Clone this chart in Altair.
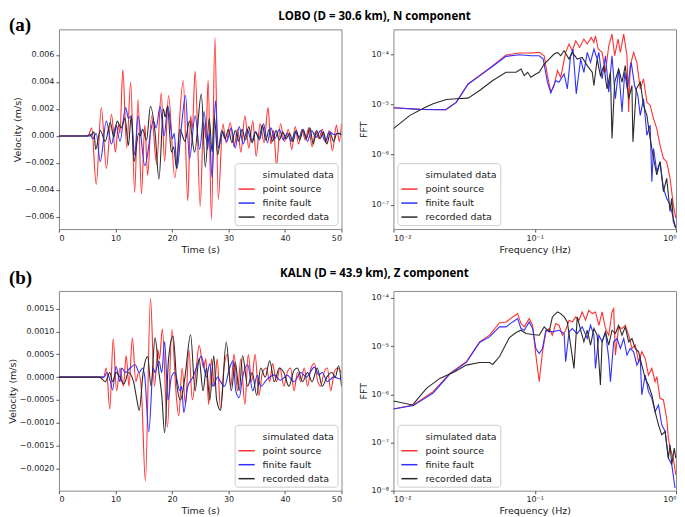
import altair as alt
import pandas as pd

# ---------------- series labels / colours ----------------
SERIES = ["simulated data", "point source", "finite fault", "recorded data"]
COLORS = ["rgba(0,0,0,0)", "#ff3030", "#3030ff", "#2b2b2b"]

# ---------------- (a) LOBO, time histories (t [s], v [m/s]) ----------------
a_red_t = [0, 4.8, 5.3, 5.8, 6.6, 7.5, 8.4, 9.3, 10.0, 10.5, 10.8, 11.3, 12.0, 12.7, 13.4, 14.0, 14.6, 15.2, 15.7, 16.4, 17.3, 18.1, 18.7, 19.4, 20.5, 22.0, 22.8, 23.3, 23.6, 24.1, 25.0, 25.6, 26.0, 26.4, 27.0, 27.6, 28.2, 29.0, 29.6, 30.3, 31.0, 31.6, 32.2, 32.9, 33.6, 34.3, 34.9, 35.6, 36.3, 37.0, 37.5, 38.0, 38.5, 39.2, 39.9, 40.6, 41.2, 41.8, 42.4, 43.0, 43.6, 44.2, 44.8, 45.4, 46.0, 46.6, 47.2, 47.8, 48.4, 49.1, 49.6, 50.0]
a_red_v = [0, 0, 0.0001, 0.0006, -0.0036, 0.0021, -0.0024, 0.0016, -0.0012, 0.0008, 0.0002, 0.0049, -0.0009, 0.0040, -0.0042, 0.0027, -0.0043, 0.0008, -0.0029, 0.0015, -0.0021, 0.0032, -0.0019, 0.0030, -0.0031, 0.0041, -0.0048, 0.0015, 0.0005, 0.0048, -0.0052, 0.0010, -0.0002, 0.0041, -0.0062, 0.0073, -0.0047, 0.0009, -0.0005, 0.0010, -0.0008, 0.0005, -0.0012, 0.0015, -0.0009, 0.0011, -0.0015, 0.0009, -0.0005, 0.0021, -0.0006, 0.0004, -0.0022, 0.0009, -0.0004, 0.0005, -0.0010, 0.0007, -0.0006, 0.0005, -0.0003, 0.0006, -0.0008, 0.0003, -0.0002, 0.0005, -0.0005, 0.0004, -0.0011, 0.0008, -0.0004, 0.0009]

a_blue_t = [0, 5.0, 5.5, 6.0, 6.6, 7.3, 8.4, 9.3, 10.1, 10.8, 11.8, 12.3, 12.8, 13.4, 14.0, 15.2, 16.7, 17.2, 17.9, 18.6, 19.3, 20.1, 20.4, 20.9, 21.7, 22.4, 23.1, 24.1, 24.9, 25.7, 26.3, 26.6, 27.1, 27.7, 28.2, 29.0, 29.7, 30.5, 31.2, 31.9, 32.6, 33.3, 34.1, 34.8, 35.5, 36.2, 36.9, 37.5, 38.2, 39.0, 39.7, 40.4, 41.1, 41.8, 42.5, 43.2, 44.0, 44.7, 45.5, 46.3, 47.1, 47.9, 48.7, 49.5, 50.0]
a_blue_v = [0, 0, 0.0001, -0.0002, 0.0002, -0.0019, 0.0011, -0.0006, 0.0008, -0.0004, 0.0021, 0.0013, 0.0015, -0.0014, 0.0015, -0.0022, 0.0011, 0.0006, 0.0022, 0.0000, 0.0022, -0.0002, 0.0002, -0.0024, 0.0008, 0.0030, -0.0017, 0.0015, -0.0010, 0.0018, -0.0010, 0.0002, -0.0031, 0.0026, -0.0009, 0.0003, -0.0004, 0.0006, -0.0009, 0.0007, -0.0006, 0.0005, -0.0004, 0.0003, -0.0003, 0.0009, -0.0005, 0.0006, -0.0002, 0.0005, -0.0003, 0.0002, -0.0004, 0.0003, -0.0001, 0.0005, -0.0004, 0.0004, -0.0001, 0.0004, -0.0004, 0.0003, 0.0001, 0.0002, 0.0001]

a_rec_t = [0, 5.5, 6.2, 6.5, 7.3, 8.2, 9.1, 9.7, 10.3, 11.0, 11.7, 12.3, 12.8, 13.3, 14.1, 14.4, 14.8, 15.5, 16.2, 17.0, 17.7, 18.5, 18.8, 19.2, 19.9, 20.3, 20.8, 21.4, 22.3, 23.1, 24.0, 25.2, 25.9, 26.6, 27.1, 27.5, 28.1, 28.8, 29.4, 30.0, 30.6, 31.2, 31.8, 32.4, 33.0, 33.6, 34.2, 34.8, 35.4, 36.0, 36.6, 37.2, 37.8, 38.4, 39.0, 39.6, 40.2, 40.8, 41.4, 42.0, 42.6, 43.2, 43.8, 44.4, 45.0, 45.6, 46.2, 46.8, 47.4, 48.0, 48.6, 49.2, 50.0]
a_rec_v = [0, 0, 0.0003, -0.0010, 0.0004, -0.0004, 0.0010, -0.0001, 0.0011, 0.0006, 0.0013, -0.0007, 0.0015, -0.0019, 0.0002, 0.0000, 0.0005, -0.0003, 0.0022, 0.0003, -0.0032, 0.0020, 0.0014, 0.0022, -0.0012, -0.0008, -0.0024, 0.0005, -0.0004, 0.0011, -0.0012, 0.0031, -0.0023, 0.0013, -0.0012, 0.0014, -0.0014, 0.0004, -0.0002, 0.0005, -0.0005, 0.0004, -0.0004, 0.0005, -0.0003, 0.0007, -0.0005, 0.0003, -0.0002, 0.0008, -0.0003, 0.0005, -0.0004, 0.0004, -0.0003, 0.0003, -0.0002, 0.0002, -0.0004, 0.0004, -0.0003, 0.0004, -0.0002, 0.0006, -0.0006, 0.0004, -0.0002, 0.0003, -0.0006, 0.0002, -0.0004, 0.0002, 0.0001]

# ---------------- (b) KALN, time histories ----------------
b_red_t = [0, 7.0, 7.9, 8.4, 9.0, 9.6, 10.2, 10.8, 11.4, 11.9, 12.4, 13.0, 13.6, 14.1, 14.6, 15.3, 16.2, 16.9, 17.5, 17.8, 18.3, 19.2, 20.0, 20.7, 21.2, 21.8, 22.4, 23.0, 23.6, 24.3, 24.8, 25.6, 26.0, 26.5, 27.0, 27.5, 28.0, 28.6, 29.2, 29.8, 30.4, 31.0, 31.6, 32.2, 32.9, 33.5, 34.1, 34.7, 35.4, 36.0, 36.7, 37.3, 37.8, 38.5, 39.1, 39.8, 40.4, 41.0, 41.6, 42.2, 42.8, 43.4, 44.0, 44.6, 45.2, 45.8, 46.3, 46.9, 47.5, 48.1, 48.7, 49.3, 50.0]
b_red_v = [0, 0, 0.0, 0.0002, -0.0007, 0.00084, -0.0003, 0.0002, -0.0002, 0.00047, -0.0002, 0.00086, -0.0001, 0.0001, -0.0003, -0.00228, 0.00173, -0.0002, 0.0006, 0.0004, 0.00106, -0.0011, 0.00105, -0.0003, -0.00085, 0.0002, -0.0006, 0.0006, -0.0005, 0.0002, 0.0007, 0.0002, 0.0004, -0.0006, 0.0004, -0.0002, 0.0004, -0.0007, 0.0002, 0.0005, -0.0002, 0.0005, -0.0003, 0.0004, -0.0006, 0.0005, -0.0001, 0.0005, -0.0004, 0.0001, 0.0002, -0.0001, 0.0003, -0.0001, 0.0002, -0.0002, 0.0001, 0.0002, -0.0003, 0.0001, -0.0001, 0.0002, -0.0002, 0.0002, 0.0003, -0.0001, -0.0002, 0.0001, 0.0002, -0.0003, 0.0001, 0.0002, 0.0001]

b_blue_t = [0, 7.5, 8.0, 8.5, 9.1, 9.5, 10.1, 10.8, 11.1, 11.8, 12.6, 13.5, 14.2, 14.8, 15.2, 15.9, 16.7, 17.0, 17.7, 18.2, 18.7, 19.3, 19.9, 20.5, 21.4, 21.7, 22.1, 22.8, 23.7, 24.3, 25.2, 26.1, 26.7, 27.2, 28.1, 28.6, 29.3, 30.2, 30.8, 31.3, 31.9, 32.5, 33.4, 34.3, 35.1, 35.7, 36.9, 38.1, 39.2, 40.4, 41.6, 42.8, 43.8, 45.2, 46.0, 46.6, 47.5, 48.6, 49.8, 50.0]
b_blue_v = [0, 0, 0.0, 0.0001, -0.0001, -0.00028, 0.00023, -0.0001, 0.0002, 0.0001, 0.0002, 0.00027, 0.0001, 0.0002, 0.0, -0.0012, 0.0002, 0.0001, 0.00035, 0.0001, 0.00078, -0.0005, 0.0, 0.0001, -0.0003, -0.0002, -0.00078, -0.0002, 0.0, 0.0002, 0.00046, 0.0, 0.0003, -0.0002, 0.0, -0.0001, -0.0002, 0.0002, 0.00036, -0.0003, -0.00045, 0.0, 0.00027, -0.0003, 0.00004, -0.0002, -0.00004, 0.00005, -0.00007, 0.00004, -0.0001, 0.0001, 0.0, 0.00022, 0.00005, 0.0001, -0.0001, 0.0, -0.00004, -0.00004]

b_rec_t = [0, 7.2, 8.2, 9.0, 9.5, 10.1, 10.8, 11.5, 12.3, 13.2, 13.8, 14.2, 14.9, 15.7, 16.3, 17.0, 17.7, 18.2, 18.7, 19.4, 20.2, 20.9, 21.5, 22.3, 23.3, 24.1, 24.8, 25.5, 26.1, 26.7, 27.4, 27.9, 28.6, 29.6, 30.5, 31.2, 31.9, 32.5, 33.4, 34.2, 35.0, 35.7, 36.5, 37.3, 38.1, 39.0, 39.8, 40.7, 41.6, 42.2, 43.1, 44.0, 44.8, 45.7, 46.6, 47.4, 48.3, 48.9, 49.5, 50.0]
b_rec_v = [0, 0, -0.0001, 0.0001, -0.0001, 0.0001, 0.0, -0.00015, 0.0001, -0.0001, -0.0005, -0.00073, 0.0001, 0.00045, -0.0002, 0.00086, 0.0001, -0.0004, -0.00122, 0.0004, 0.0009, -0.0002, -0.0005, 0.0, 0.00093, -0.0003, 0.0004, -0.0003, 0.0002, -0.0005, 0.00047, -0.0005, -0.00073, 0.00077, -0.0003, 0.00033, -0.0003, 0.00047, -0.0002, 0.0001, -0.0004, 0.0002, 0.0, 0.00036, -0.0001, 0.0002, 0.0001, -0.0002, 0.00015, 0.0002, -0.0001, 0.0001, -0.0001, 0.0002, -0.0002, 0.0, 0.0001, 0.0, 0.00025, -0.0002]

# ---------------- (a) LOBO, Fourier spectra (log10 f [Hz], log10 amplitude) ----------------
a_fft_red_lf = [-2.000, -1.812, -1.630, -1.555, -1.472, -1.390, -1.297, -1.203, -1.109, -1.027, -0.968, -0.933, -0.910, -0.886, -0.863, -0.839, -0.816, -0.781, -0.757, -0.734, -0.710, -0.682, -0.652, -0.628, -0.600, -0.581, -0.570, -0.551, -0.523, -0.499, -0.476, -0.453, -0.434, -0.410, -0.394, -0.370, -0.347, -0.335, -0.324, -0.300, -0.277, -0.253, -0.230, -0.206, -0.183, -0.159, -0.136, -0.113, -0.089, -0.066, -0.042, -0.019, -0.002]
a_fft_red_la = [-5.068, -5.101, -5.107, -4.956, -4.593, -4.428, -4.231, -4.020, -3.980, -3.980, -3.967, -4.033, -4.428, -4.758, -4.626, -4.330, -4.461, -3.967, -3.802, -3.934, -3.736, -3.868, -3.703, -3.802, -3.670, -3.769, -3.637, -3.901, -3.967, -4.363, -3.835, -3.604, -4.033, -3.703, -3.967, -3.604, -4.033, -5.154, -4.231, -3.967, -4.165, -4.692, -4.494, -4.956, -5.022, -5.285, -5.483, -5.813, -6.076, -6.142, -6.472, -7.000, -7.264]

a_fft_blue_lf = [-2.000, -1.812, -1.630, -1.555, -1.472, -1.390, -1.297, -1.203, -1.109, -1.027, -0.968, -0.940, -0.910, -0.886, -0.851, -0.828, -0.792, -0.769, -0.746, -0.729, -0.706, -0.675, -0.652, -0.628, -0.605, -0.581, -0.558, -0.546, -0.523, -0.499, -0.476, -0.453, -0.429, -0.406, -0.382, -0.363, -0.345, -0.317, -0.293, -0.270, -0.253, -0.230, -0.206, -0.183, -0.171, -0.159, -0.136, -0.113, -0.089, -0.066, -0.042, -0.019, -0.002]
a_fft_blue_la = [-5.068, -5.101, -5.107, -4.962, -4.600, -4.435, -4.244, -4.046, -4.013, -4.033, -4.033, -4.099, -4.560, -4.771, -4.527, -4.560, -4.396, -4.692, -4.033, -3.901, -4.791, -4.099, -4.363, -3.967, -4.165, -3.901, -4.099, -3.967, -4.494, -4.033, -4.758, -4.033, -4.890, -4.297, -5.154, -4.363, -4.692, -4.165, -4.626, -4.824, -5.220, -4.890, -5.615, -5.417, -6.538, -5.879, -6.340, -6.142, -6.670, -6.868, -7.000, -7.264, -7.461]

a_fft_rec_lf = [-2.000, -1.883, -1.784, -1.719, -1.625, -1.555, -1.472, -1.390, -1.297, -1.203, -1.132, -1.097, -1.074, -1.050, -1.027, -0.992, -0.968, -0.933, -0.898, -0.863, -0.839, -0.816, -0.792, -0.757, -0.734, -0.699, -0.664, -0.628, -0.593, -0.581, -0.558, -0.535, -0.511, -0.488, -0.464, -0.453, -0.434, -0.406, -0.382, -0.359, -0.335, -0.312, -0.305, -0.281, -0.253, -0.230, -0.206, -0.183, -0.159, -0.136, -0.113, -0.089, -0.066, -0.042, -0.030, -0.019, -0.002]
a_fft_rec_la = [-5.483, -5.220, -5.075, -4.989, -4.903, -4.890, -4.877, -4.725, -4.527, -4.363, -4.363, -4.297, -4.428, -4.363, -4.461, -4.396, -4.363, -4.198, -4.099, -4.000, -3.967, -4.033, -3.934, -4.099, -3.967, -4.099, -4.066, -4.231, -4.363, -4.626, -4.099, -4.428, -4.231, -4.692, -4.363, -5.681, -4.560, -4.297, -4.560, -4.231, -4.890, -4.626, -5.747, -4.692, -4.560, -5.022, -5.220, -5.681, -6.076, -6.406, -6.142, -6.736, -6.472, -7.131, -6.868, -7.329, -7.461]

# ---------------- (b) KALN, Fourier spectra ----------------
b_fft_red_lf = [-2.000, -1.859, -1.719, -1.601, -1.484, -1.390, -1.320, -1.250, -1.203, -1.156, -1.121, -1.097, -1.074, -1.039, -1.015, -0.992, -0.968, -0.945, -0.921, -0.898, -0.875, -0.851, -0.828, -0.804, -0.781, -0.757, -0.734, -0.710, -0.687, -0.664, -0.640, -0.617, -0.593, -0.570, -0.546, -0.523, -0.499, -0.476, -0.453, -0.441, -0.429, -0.406, -0.382, -0.359, -0.335, -0.312, -0.288, -0.265, -0.242, -0.218, -0.195, -0.171, -0.148, -0.136, -0.113, -0.089, -0.066, -0.054, -0.042, -0.019, -0.002]
b_fft_red_la = [-6.303, -6.221, -5.945, -5.566, -5.324, -4.910, -4.772, -4.517, -4.497, -4.393, -4.324, -4.531, -4.600, -4.428, -4.566, -5.186, -5.738, -5.117, -4.703, -4.634, -4.772, -4.531, -4.566, -4.772, -4.669, -4.462, -4.497, -4.393, -4.462, -4.290, -4.462, -4.255, -4.324, -4.290, -4.566, -4.290, -4.634, -4.772, -4.290, -4.221, -5.186, -4.600, -4.634, -4.566, -4.772, -5.048, -4.979, -5.324, -5.117, -5.255, -5.600, -5.462, -5.738, -5.634, -6.083, -6.117, -6.497, -6.910, -7.117, -7.324, -7.669]

b_fft_blue_lf = [-2.000, -1.859, -1.719, -1.601, -1.484, -1.390, -1.320, -1.250, -1.203, -1.156, -1.121, -1.097, -1.074, -1.039, -1.015, -0.992, -0.968, -0.945, -0.921, -0.875, -0.828, -0.792, -0.781, -0.757, -0.734, -0.699, -0.664, -0.628, -0.605, -0.581, -0.570, -0.546, -0.523, -0.499, -0.476, -0.464, -0.441, -0.417, -0.394, -0.370, -0.347, -0.324, -0.300, -0.277, -0.253, -0.242, -0.218, -0.195, -0.171, -0.148, -0.124, -0.101, -0.077, -0.054, -0.030, -0.007]
b_fft_blue_la = [-6.303, -6.234, -5.972, -5.579, -5.338, -4.924, -4.807, -4.600, -4.600, -4.497, -4.428, -4.634, -4.669, -4.497, -4.634, -5.048, -5.152, -5.048, -4.669, -4.703, -4.669, -4.738, -5.324, -4.703, -4.634, -4.738, -4.600, -4.841, -4.566, -4.772, -5.462, -4.772, -4.910, -4.703, -5.255, -5.738, -4.910, -4.841, -5.048, -4.841, -5.186, -5.048, -5.117, -5.393, -5.255, -6.014, -5.600, -5.945, -6.083, -6.359, -6.221, -6.634, -6.772, -7.324, -7.462, -7.945]

b_fft_rec_lf = [-2.000, -1.864, -1.766, -1.672, -1.566, -1.484, -1.390, -1.320, -1.297, -1.250, -1.179, -1.132, -1.097, -1.062, -1.015, -0.968, -0.933, -0.898, -0.875, -0.839, -0.816, -0.792, -0.769, -0.746, -0.722, -0.699, -0.675, -0.652, -0.628, -0.605, -0.581, -0.558, -0.535, -0.523, -0.499, -0.476, -0.453, -0.429, -0.406, -0.382, -0.359, -0.335, -0.312, -0.288, -0.265, -0.242, -0.218, -0.195, -0.171, -0.148, -0.124, -0.101, -0.077, -0.066, -0.054, -0.042, -0.030, -0.012, -0.002]
b_fft_rec_la = [-6.138, -6.221, -5.876, -5.669, -5.531, -5.393, -5.338, -5.338, -5.379, -5.221, -4.821, -4.717, -4.669, -4.738, -4.759, -4.772, -4.600, -4.703, -4.393, -4.290, -4.324, -4.393, -4.497, -4.979, -5.462, -4.393, -4.669, -4.910, -4.669, -4.979, -4.634, -4.772, -5.807, -4.910, -4.703, -4.979, -4.669, -4.738, -4.566, -4.772, -4.600, -4.910, -4.841, -5.048, -5.117, -5.393, -5.669, -5.807, -6.014, -6.359, -6.634, -6.841, -6.772, -7.048, -7.324, -7.048, -7.462, -7.117, -7.324]

# ---------------- text ----------------
a_tag, a_title = "(a)", "LOBO (D = 30.6 km), N component"
b_tag, b_title = "(b)", "KALN (D = 43.9 km), Z component"

PW, PH = 283, 200
FONT = "DejaVu Sans"


def legend(orient):
    return alt.Legend(orient=orient, title=None, symbolType="stroke", symbolSize=260,
                      symbolStrokeWidth=1.5, labelFontSize=9.5, labelFont=FONT, labelColor="#222",
                      strokeColor="#cccccc", fillColor="white", padding=3, cornerRadius=3,
                      offset=4, rowPadding=0, labelOffset=7)


def color(orient):
    return alt.Color("series:N", scale=alt.Scale(domain=SERIES, range=COLORS), legend=legend(orient))


def tframe(t, v, name):
    return pd.DataFrame({"x": t, "y": v, "series": name})


def fframe(lf, la, name):
    return pd.DataFrame({"x": [10 ** a for a in lf], "y": [10 ** a for a in la], "series": name})


def texts(tag, title, tag_y, title_y, title_x):
    tg = alt.Chart(pd.DataFrame({"s": [tag]})).mark_text(
        font="Liberation Serif", fontSize=19, fontWeight="bold", align="left", baseline="alphabetic",
        color="black").encode(x=alt.value(-50), y=alt.value(tag_y), text="s:N")
    tt = alt.Chart(pd.DataFrame({"s": [title]})).mark_text(
        font="Open Sans", fontSize=11.5, fontWeight="bold", align="center", baseline="alphabetic",
        color="black").encode(x=alt.value(title_x), y=alt.value(title_y), text="s:N")
    return [tg, tt]


def time_panel(frames, ydom, yvals, yfmt, tag, title, tag_y, title_y):
    xs = alt.Scale(domain=[0, 50], nice=False, zero=False)
    ys = alt.Scale(domain=ydom, nice=False, zero=False)
    layers = []
    for df in frames:
        layers.append(alt.Chart(df).mark_line(strokeWidth=1.1, interpolate="monotone", clip=True).encode(
            x=alt.X("x:Q", scale=xs, axis=alt.Axis(values=[0, 10, 20, 30, 40, 50], title="Time (s)")),
            y=alt.Y("y:Q", scale=ys, axis=alt.Axis(values=yvals, format=yfmt, title="Velocity (m/s)")),
            color=color("bottom-right")))
    return alt.layer(*layers, *texts(tag, title, tag_y, title_y, 316)).properties(width=PW, height=PH)


def fft_panel(frames, ydom, yvals, ylabels):
    xs = alt.Scale(type="log", domain=[0.01, 1], nice=False)
    ys = alt.Scale(type="log", domain=ydom, nice=False)
    xexpr = "datum.value < 0.05 ? '10\u207b\u00b2' : datum.value < 0.5 ? '10\u207b\u00b9' : '10\u2070'"
    parts = []
    for val, lab in zip(yvals, ylabels):
        parts.append(f"datum.value < {val * 3} ? '{lab}' : ")
    yexpr = "".join(parts) + "''"
    layers = []
    for df in frames:
        layers.append(alt.Chart(df).mark_line(strokeWidth=1.1, clip=True).encode(
            x=alt.X("x:Q", scale=xs, axis=alt.Axis(values=[0.01, 0.1, 1], labelExpr=xexpr, title="Frequency (Hz)")),
            y=alt.Y("y:Q", scale=ys, axis=alt.Axis(values=yvals, labelExpr=yexpr, title="FFT")),
            color=color("bottom-left")))
    return alt.layer(*layers).properties(width=PW, height=PH)


sup = {4: "\u2074", 5: "\u2075", 6: "\u2076", 7: "\u2077", 8: "\u2078"}

tl = time_panel([tframe(a_red_t, a_red_v, "point source"), tframe(a_blue_t, a_blue_v, "finite fault"),
                 tframe(a_rec_t, a_rec_v, "recorded data")],
                [-0.0069, 0.0079], [-0.006, -0.004, -0.002, 0, 0.002, 0.004, 0.006], ".3f",
                a_tag, a_title, 2, -9)
tr = fft_panel([fframe(a_fft_red_lf, a_fft_red_la, "point source"), fframe(a_fft_blue_lf, a_fft_blue_la, "finite fault"),
                fframe(a_fft_rec_lf, a_fft_rec_la, "recorded data")],
               [3.3e-8, 3.1e-4], [1e-7, 1e-6, 1e-5, 1e-4],
               ["10\u207b" + sup[k] for k in (7, 6, 5, 4)])
bl = time_panel([tframe(b_red_t, b_red_v, "point source"), tframe(b_blue_t, b_blue_v, "finite fault"),
                 tframe(b_rec_t, b_rec_v, "recorded data")],
                [-0.00249, 0.00189], [-0.002, -0.0015, -0.001, -0.0005, 0, 0.0005, 0.001, 0.0015], ".4f",
                b_tag, b_title, -7, -14)
br = fft_panel([fframe(b_fft_red_lf, b_fft_red_la, "point source"), fframe(b_fft_blue_lf, b_fft_blue_la, "finite fault"),
                fframe(b_fft_rec_lf, b_fft_rec_la, "recorded data")],
               [1e-8, 1.4e-4], [1e-8, 1e-7, 1e-6, 1e-5, 1e-4],
               ["10\u207b" + sup[k] for k in (8, 7, 6, 5, 4)])

chart = alt.concat(tl, tr, bl, br, columns=2, bounds="flush",
                   spacing=alt.RowColnumber(row=62, column=52)).resolve_scale(
    color="independent").properties(padding={"top": 2, "left": -2, "right": 0, "bottom": 0}).configure_view(
    stroke="#8a8a8a", strokeWidth=1).configure_axis(
    labelFont=FONT, titleFont=FONT, labelFontSize=8, titleFontSize=9.5, titleFontWeight="normal",
    labelColor="#222", titleColor="#222", tickColor="#555", tickSize=3, domain=False, grid=False,
    labelPadding=2, titlePadding=2)

chart.save("out.html", embed_options={"renderer": "svg", "actions": False})
